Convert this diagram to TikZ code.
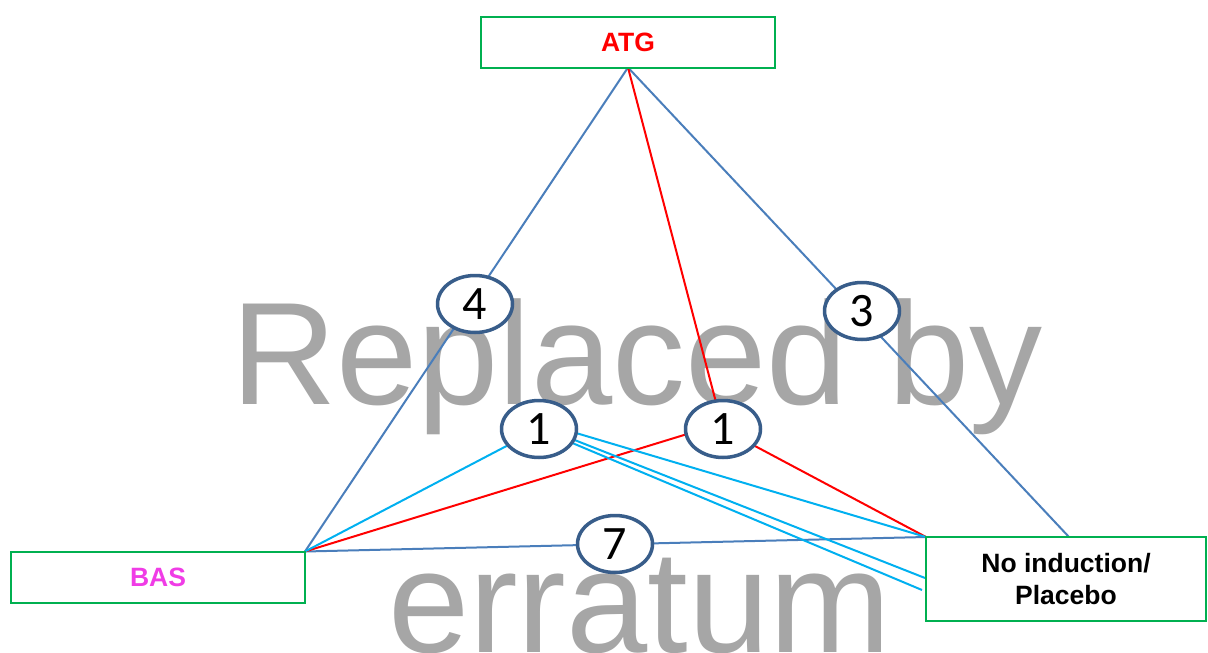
\documentclass[tikz,border=0pt]{standalone}
\usepackage{fontspec}
\setmainfont{Liberation Sans}
\newfontfamily\numfont{Carlito}
\usetikzlibrary{shapes.geometric,calc}
\definecolor{boxgreen}{RGB}{0,176,80}
\definecolor{lineblue}{RGB}{74,126,187}
\definecolor{ringblue}{RGB}{56,93,138}
\definecolor{cyanline}{RGB}{0,176,240}
\definecolor{wmgray}{RGB}{166,166,166}
\definecolor{basmag}{RGB}{240,60,230}
\pgfdeclarelayer{wm}
\pgfdeclarelayer{lines}
\pgfsetlayers{wm,lines,main}
\begin{document}
\begin{tikzpicture}[x=1pt,y=-1pt,
  armbox/.style={draw=boxgreen,line width=2pt,fill=white,rectangle,inner sep=0pt,outer sep=0pt,
    minimum width=294pt,minimum height=51pt,font=\fontsize{26.5}{32}\selectfont\bfseries,align=center},
  ring/.style={ellipse,draw=ringblue,line width=3.5pt,fill=white,inner sep=0pt,outer sep=0pt,
    minimum width=75pt,minimum height=57pt,font=\numfont\fontsize{48}{48}\selectfont},
  blueln/.style={draw=lineblue,line width=2pt},
  redln/.style={draw=red,line width=2pt},
  cyanln/.style={draw=cyanline,line width=2pt},
  wmtext/.style={anchor=base west,inner sep=0pt,text=wmgray,font=\fontsize{146}{150}\selectfont}
]
\useasboundingbox (0,0) rectangle (1208,653);

% background and watermark
\begin{pgfonlayer}{wm}
\fill[white] (0,0) rectangle (1208,653);
\node[wmtext] (wm1) at (231,404) {Replaced by};
\node[wmtext] (wm2) at (388,652) {erratum};
\end{pgfonlayer}

% boxes
\node[armbox,text=red] (atg) at (628,42) {ATG};
\node[armbox,text=basmag] (bas) at (158,577) {BAS};
\node[armbox,minimum width=280pt,minimum height=84pt,text=black] (noind) at (1066,579) {No induction/\\Placebo};

% circles
\node[ring] (c4) at (475,304) {4};
\node[ring] (c3) at (862,311) {3};
\node[ring] (c1l) at (539,429) {1};
\node[ring] (c1r) at (723,429) {1};
\node[ring] (c7) at (615,544) {7};

\coordinate (nw1) at (925,578);
\coordinate (nw2) at (922,590);

\begin{pgfonlayer}{lines}
\draw[blueln] (atg.south) -- (bas.north east);
\draw[blueln] (atg.south) -- ($(noind.north)+(3,0)$);
\draw[blueln] (bas.north east) -- (noind.north west);
\draw[redln] (atg.south) -- (c1r.center);
\draw[redln] (c1r.center) -- (noind.north west);
\draw[redln] (bas.north east) -- ($(c1r.center)+(0,-6)$);
\draw[cyanln] (bas.north east) -- (c1l.center);
\draw[cyanln] ($(c1l.center)+(0,-7)$) -- (noind.north west);
\draw[cyanln] ($(c1l.center)+(0,-3)$) -- (nw1);
\draw[cyanln] (c1l.center) -- (nw2);
\end{pgfonlayer}
\end{tikzpicture}
\end{document}
